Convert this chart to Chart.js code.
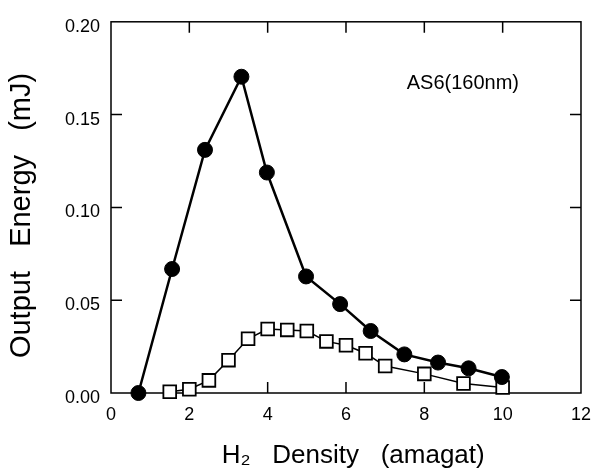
<!DOCTYPE html>
<html>
<head>
<meta charset="utf-8">
<script src="https://cdn.jsdelivr.net/npm/chart.js@4"></script>
<style>
  body { margin: 0; background: #fff; }
</style>
</head>
<body>
<canvas id="chart" width="602" height="474"></canvas>
<script>
// AS6 (160nm) output energy vs H2 density
const filledX = [0.70, 1.56, 2.40, 3.33, 3.98, 4.98, 5.85, 6.63, 7.49, 8.35, 9.13, 9.98];
const filledY = [0.000, 0.0668, 0.131, 0.1704, 0.1188, 0.0628, 0.0479, 0.0334, 0.0208, 0.0164, 0.0133, 0.0086];
const openX = [1.5, 2.0, 2.5, 3.0, 3.5, 4.0, 4.5, 5.0, 5.5, 6.0, 6.5, 7.0, 8.0, 9.0, 10.0];
const openY = [0.0007, 0.002, 0.0068, 0.0177, 0.0292, 0.0345, 0.034, 0.0334, 0.0278, 0.0257, 0.0214, 0.0145, 0.0103, 0.0051, 0.003];
const seriesLabel = 'AS6(160nm)';
const labelX = 7.55;
const labelY = 0.167;

const FONT = '"Liberation Sans", Arial, Helvetica, sans-serif';
const TICK_LEN = 11;

// frame round the plot, inward ticks on all four sides, and the text label
const framePlugin = {
    id: 'frame',
    beforeDatasetsDraw(chart) {
        const { ctx, chartArea: a, scales: { x, y } } = chart;
        ctx.save();
        ctx.strokeStyle = '#000';
        ctx.lineWidth = 1.5;
        ctx.strokeRect(a.left, a.top, a.right - a.left, a.bottom - a.top);
        ctx.beginPath();
        x.ticks.forEach(t => {
            if (t.value <= x.min || t.value >= x.max) return;
            const px = x.getPixelForValue(t.value);
            ctx.moveTo(px, a.bottom); ctx.lineTo(px, a.bottom - TICK_LEN);
            ctx.moveTo(px, a.top); ctx.lineTo(px, a.top + TICK_LEN);
        });
        y.ticks.forEach(t => {
            if (t.value <= y.min || t.value >= y.max) return;
            const py = y.getPixelForValue(t.value);
            ctx.moveTo(a.left, py); ctx.lineTo(a.left + TICK_LEN, py);
            ctx.moveTo(a.right, py); ctx.lineTo(a.right - TICK_LEN, py);
        });
        ctx.stroke();
        ctx.font = '20px ' + FONT;
        ctx.fillStyle = '#000';
        ctx.textBaseline = 'middle';
        ctx.textAlign = 'left';
        ctx.fillText(seriesLabel, x.getPixelForValue(labelX), y.getPixelForValue(labelY));
        ctx.restore();
    }
};

new Chart(document.getElementById('chart'), {
    type: 'line',
    data: {
        datasets: [
            {
                label: 'filled',
                data: filledX.map((v, i) => ({ x: v, y: filledY[i] })),
                borderColor: '#000', borderWidth: 2.5,
                pointStyle: 'circle', pointRadius: 7.5,
                pointBackgroundColor: '#000', pointBorderColor: '#000', pointBorderWidth: 1,
                tension: 0, clip: false
            },
            {
                label: 'open',
                data: openX.map((v, i) => ({ x: v, y: openY[i] })),
                borderColor: '#000', borderWidth: 1.5,
                pointStyle: 'rect', pointRadius: 9,
                pointBackgroundColor: '#fff', pointBorderColor: '#000', pointBorderWidth: 1.8,
                tension: 0, clip: false
            }
        ]
    },
    options: {
        responsive: false,
        animation: false,
        layout: { padding: { top: 12, right: 13, left: 0, bottom: 0 } },
        plugins: {
            legend: { display: false },
            title: { display: false },
            tooltip: { enabled: false }
        },
        scales: {
            x: {
                type: 'linear', min: 0, max: 12,
                grid: { display: false, drawTicks: false },
                border: { display: false },
                ticks: { stepSize: 2, color: '#000', padding: 11, font: { family: FONT, size: 18 } },
                title: { display: true, text: '  H\u2082   Density   (amagat)', color: '#000',
                    font: { family: FONT, size: 26 }, padding: { top: 0, bottom: 3 } },
                afterFit(scale) { scale.height = 81; }
            },
            y: {
                min: 0, max: 0.2,
                grid: { display: false, drawTicks: false },
                border: { display: false },
                ticks: { stepSize: 0.05, color: '#000', padding: 11, labelOffset: 5,
                    font: { family: FONT, size: 18 }, callback: v => v.toFixed(2) },
                title: { display: true, text: 'Output   Energy   (mJ)  ', color: '#000',
                    font: { family: FONT, size: 29 }, padding: { top: 5, bottom: 0 } },
                afterFit(scale) { scale.width = 111; }
            }
        }
    },
    plugins: [framePlugin]
});
</script>
</body>
</html>
